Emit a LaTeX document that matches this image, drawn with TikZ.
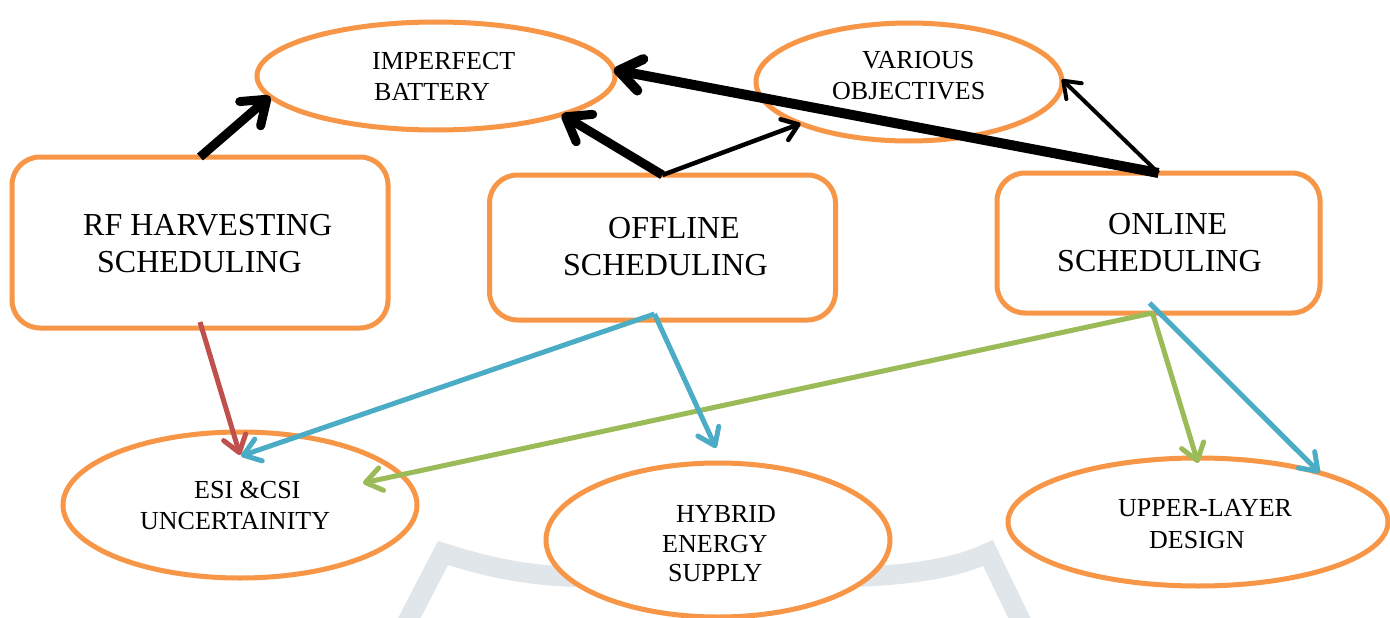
\documentclass[tikz,border=0pt]{standalone}
\usepackage{fontspec}
\setmainfont{Liberation Serif}
\usetikzlibrary{arrows.meta,shapes.geometric,calc}

\definecolor{boxorange}{HTML}{F79646}
\definecolor{linkred}{HTML}{C0504D}
\definecolor{linkblue}{HTML}{4BACC6}
\definecolor{linkgreen}{HTML}{9BBB59}
\definecolor{markgray}{HTML}{E1E6EA}

\begin{document}
\begin{tikzpicture}[x=1pt,y=1pt,
  bubble/.style={ellipse, draw=boxorange, line width=5pt, fill=white,
    inner sep=0pt, outer sep=0pt},
  panel/.style={rectangle, rounded corners=28pt, draw=boxorange, line width=5pt,
    fill=white, inner sep=0pt, outer sep=0pt},
  small/.style={inner sep=0pt, align=left, anchor=west,
    font=\fontsize{26}{31}\selectfont},
  big/.style={inner sep=0pt, align=left, anchor=west,
    font=\fontsize{32}{37}\selectfont},
  heavy/.style={draw=black, line width=9pt,
    -{Straight Barb[length=22pt,width=32pt,round]}},
  light/.style={draw=black, line width=4.5pt,
    -{Straight Barb[length=15pt,width=22pt,round]}},
  link/.style={line width=5pt,
    -{Straight Barb[length=16pt,width=23pt,round]}},
]
\useasboundingbox (0,0) rectangle (1390,-618);
\fill[white] (0,0) rectangle (1390,-618);

% faint background mark
\begin{scope}
  \clip (0,0) rectangle (1390,-618);
  \draw[markgray, line width=20pt, line join=miter]
    (398,-640) -- (443,-553)
    .. controls (490,-568) and (530,-576) .. (580,-577)
    -- (850,-577)
    .. controls (920,-575) and (960,-566) .. (988,-553)
    -- (1030,-640);
\end{scope}

% ellipses
\node[bubble, minimum width=358pt, minimum height=108pt] (bat) at (436,-76) {};
\node[bubble, minimum width=306pt, minimum height=118pt] (var) at (909,-82) {};
\node[bubble, minimum width=354pt, minimum height=146pt] (esi) at (240,-505) {};
\node[bubble, minimum width=344pt, minimum height=154pt] (hyb) at (718,-540) {};
\node[bubble, minimum width=380pt, minimum height=128pt] (up) at (1198,-522) {};

% scheduling panels
\node[panel, minimum width=376pt, minimum height=171pt] (rf) at (200,-242.5) {};
\node[panel, minimum width=346pt, minimum height=145pt] (off) at (662.5,-247.5) {};
\node[panel, minimum width=323pt, minimum height=140pt] (on) at (1158.5,-243) {};

% labels
\node[small] (batt) at (372,-76) {IMPERFECT\\\hspace*{2pt}BATTERY};
\node[small] (vart) at (832,-76) {\hspace*{30pt}VARIOUS\\OBJECTIVES};
\node[big] (rft) at (83,-244) {RF HARVESTING\\\hspace*{14pt}SCHEDULING};
\node[big] (offt) at (563,-246.5) {\hspace*{45pt}OFFLINE\\SCHEDULING};
\node[big] (ont) at (1057,-243) {\hspace*{51pt}ONLINE\\SCHEDULING};
\node[small] (esit) at (140,-505) {\hspace*{54pt}ESI \&CSI\\UNCERTAINITY};
\node[small, font=\fontsize{26}{29.5}\selectfont] (hybt) at (662,-544)
  {\hspace*{14pt}HYBRID\\ENERGY\\\hspace*{6pt}SUPPLY};
\node[small, font=\fontsize{26}{32}\selectfont] (upt) at (1118,-524.5)
  {UPPER-LAYER\\\hspace*{31pt}DESIGN};

% black links
\draw[heavy] (rf.north) -- (bat.187);
\draw[heavy] (off.north) -- (bat.343);
\draw[light] (off.north) -- (var.201);
\draw[heavy, line width=10pt] (on.north) -- (bat.2);
\draw[light, line width=4pt] (on.north) -- (var.1);

% coloured links
\draw[link, linkred] ([yshift=6pt]rf.south) -- ([yshift=-23pt]esi.north);
\draw[link, linkgreen] ([xshift=-6pt]on.south) -- ([xshift=123pt,yshift=22pt]esi.center);
\draw[link, linkgreen] ([xshift=-6pt]on.south) -- ([yshift=-5pt]up.north);
\draw[link, linkblue] ([xshift=-8pt,yshift=6pt]off.south) -- ([xshift=1pt,yshift=-24pt]esi.north);
\draw[link, linkblue] ([xshift=-8pt,yshift=6pt]off.south) -- ([xshift=-2pt,yshift=15pt]hyb.north);
\draw[link, linkblue] ([xshift=-9pt,yshift=10pt]on.south) -- (up.22);
\end{tikzpicture}
\end{document}
